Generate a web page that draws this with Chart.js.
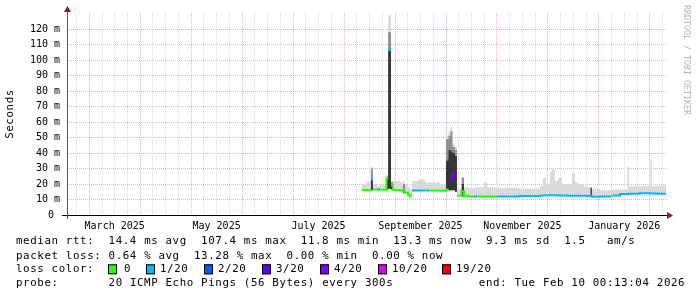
<!DOCTYPE html>
<html>
<head>
<meta charset="utf-8">
<script src="https://cdn.jsdelivr.net/npm/chart.js@4.4.1/dist/chart.umd.min.js"></script>
<style>
  html, body { margin: 0; padding: 0; background: #fff; }
  canvas { display: block; }
</style>
</head>
<body>
<canvas id="chart" width="697" height="297"></canvas>
<script>
// x values are days since Tue Feb 10 2025 (graph covers one year)
const days = [179.4, 181.8, 184.8, 186.1, 188.6, 190.4, 194.3, 195.4, 197.1, 198.3,
              202.6, 204.4, 205.6, 207.4, 208.6, 209.9, 213.5, 217.8, 219.0, 220.2,
              226.9, 230.5, 232.1, 233.3, 234.5, 236.0, 237.2, 240.0, 241.5, 243.9,
              247.0, 249.4, 253.6, 255.5, 257.3, 261.6, 275.5, 287.7, 289.5, 291.4,
              293.8, 295.0, 296.8, 298.7, 301.1, 304.7, 307.2, 309.0, 310.8, 313.9,
              316.9, 318.4, 319.3, 324.2, 330.9, 332.1, 336.4, 340.9, 341.9, 348.5,
              354.9, 355.8, 359.5, 364.4];

// median rtt in ms
const medianRtt = [16.2, 16.0, 23.0, 16.5, 16.5, 16.3, 23.5, 107.4, 19.0, 16.2,
                   16.0, 15.0, 14.5, 13.0, 12.0, 15.8, 15.8, 15.8, 15.8, 15.8,
                   15.6, 16.5, 23.0, 23.0, 27.5, 24.0, 12.5, 15.3, 12.5, 12.0,
                   12.0, 12.0, 12.0, 12.0, 12.0, 12.0, 12.2, 12.6, 12.6, 12.8,
                   12.8, 12.8, 12.8, 12.6, 12.6, 12.5, 12.5, 12.5, 12.4, 12.4,
                   12.3, 12.2, 11.8, 12.0, 12.5, 12.6, 13.5, 13.6, 13.7, 14.0,
                   13.9, 13.9, 13.8, 13.3];

// packet loss level, index into lossLabels / lossColors
const lossLevel = [0, 0, 1, 0, 1, 0, 0, 1, 0, 0,
                   0, 0, 0, 0, 0, 1, 1, 0, 1, 0,
                   0, 0, 3, 4, 4, 3, 0, 0, 0, 0,
                   1, 0, 0, 0, 0, 1, 1, 1, 1, 1,
                   1, 1, 1, 1, 1, 1, 1, 1, 1, 1,
                   1, 1, 1, 1, 0, 1, 1, 1, 1, 1,
                   1, 1, 1, 1];

// top of the smoke (slowest ping), ms
const smokeMax = [20, 21.5, 31, 20, 19, 19.5, 26, 129, 22, 22,
                  21, 22, 20, 18, 17, 22, 23, 21, 21, 21,
                  20, 52, 54, 57, 46, 44, 17, 24.5, 18, 17.5,
                  17.5, 18, 21, 18, 18, 17.5, 17, 18.5, 24, 20,
                  28, 29.5, 22, 24, 20, 20, 27, 21, 20, 18.5,
                  18, 18, 17, 16, 16.5, 16.5, 16.5, 31, 18.5, 18.5,
                  36, 18.5, 19, 19];

// denser smoke around the latency spikes (null closes a block)
const spikeDays = [184.8, 186.1, 194.3, 195.4, 197.1, 198.3, 204.4, 205.6, 230.5, 232.1,
                   233.3, 234.5, 236.0, 237.2, 240.0, 241.5, 318.4, 319.3];
const spikeLo   = [16, null, 16.5, 17, 16.5, null, 14, null, 16, 16,
                   16, 16, 15, null, 12, null, 12, null];
const spikeMid  = [30, null, 25, 118, 21, null, 20, null, 49, 51,
                   54, 44, 42, null, 24, null, 18, null];
const spikeDark = [23, null, 23, 106, 19, null, 16, null, 35, 42,
                   41, 40, 38, null, 20, null, 17.5, null];

const monthDays = [29, 91, 153, 215, 277, 339];
const monthLabels = ['March 2025', 'May 2025', 'July 2025', 'September 2025', 'November 2025', 'January 2026'];

const lossLabels = ['0', '1/20', '2/20', '3/20', '4/20', '10/20', '19/20'];
const lossColors = ['#26ff00', '#00b8ff', '#0059ff', '#5e00ff', '#7e00ff', '#dd00ff', '#ff0000'];

const legendRows = [
  'median rtt:  14.4 ms avg  107.4 ms max  11.8 ms min  13.3 ms now  9.3 ms sd  1.5   am/s',
  'packet loss: 0.64 % avg  13.28 % max  0.00 % min  0.00 % now'
];
const probeText = '20 ICMP Echo Pings (56 Bytes) every 300s';
const endText = 'end: Tue Feb 10 00:13:04 2026';

const MONO = '"DejaVu Sans Mono", monospace';
const MAJOR_GRID = 'rgba(235,120,120,0.6)';
const MINOR_GRID = 'rgba(175,175,175,0.5)';

// grid: minor line every quarter of a 31 day block
const gridDays = [];
for (let d = 5.81; d < 365; d += 7.75) gridDays.push(d);

// turn (x, value) lists into a staircase: each value holds until the next x
function steps(xs, ys) {
    const pts = [];
    for (let i = 0; i < xs.length - 1; i++) {
        if (ys[i] === null) { pts.push({ x: xs[i], y: null }); continue; }
        pts.push({ x: xs[i], y: ys[i] }, { x: xs[i + 1], y: ys[i] });
    }
    return pts;
}

// staircase of the median, only where the loss level matches
function medianFor(level) {
    const pts = [];
    for (let i = 0; i < days.length - 1; i++) {
        if (lossLevel[i] !== level) {
            if (pts.length && pts[pts.length - 1].y !== null) pts.push({ x: days[i], y: null });
            continue;
        }
        pts.push({ x: days[i], y: medianRtt[i] }, { x: days[i + 1], y: medianRtt[i] });
    }
    return pts;
}

const flat = { pointRadius: 0, borderWidth: 0, borderColor: 'transparent', tension: 0 };

const frame = {
    id: 'frame',
    afterDatasetsDraw(chart) {
        const { ctx, chartArea: a } = chart;
        ctx.save();
        ctx.lineWidth = 1;
        ctx.strokeStyle = '#000';
        ctx.beginPath();
        ctx.moveTo(a.left - 5, a.bottom + 0.5);
        ctx.lineTo(a.right + 1, a.bottom + 0.5);
        ctx.stroke();
        ctx.strokeStyle = '#555';
        ctx.beginPath();
        ctx.moveTo(a.left + 0.5, a.bottom + 4);
        ctx.lineTo(a.left + 0.5, a.top - 3);
        ctx.stroke();
        ctx.fillStyle = '#8b1a1a';
        ctx.beginPath();
        ctx.moveTo(a.right, a.bottom - 3);
        ctx.lineTo(a.right + 6, a.bottom + 0.5);
        ctx.lineTo(a.right, a.bottom + 4);
        ctx.fill();
        ctx.beginPath();
        ctx.moveTo(a.left - 3, a.top - 1);
        ctx.lineTo(a.left + 0.5, a.top - 7);
        ctx.lineTo(a.left + 4, a.top - 1);
        ctx.fill();
        ctx.restore();
    },
    afterDraw(chart) {
        const ctx = chart.ctx;
        const col = 7.12, left = 16;
        const rowY = [241.5, 255.7, 269.3, 283.3];
        ctx.save();
        ctx.font = '10.8px ' + MONO;
        ctx.letterSpacing = '0.6px';
        ctx.fillStyle = '#000';
        ctx.textBaseline = 'middle';
        ctx.textAlign = 'left';

        const drawRow = (text, y, startCol) => {
            const re = /\S+/g;
            let m;
            while ((m = re.exec(text))) ctx.fillText(m[0], left + (startCol + m.index) * col, y);
        };
        drawRow(legendRows[0], rowY[0], 0);
        drawRow(legendRows[1], rowY[1], 0);

        // loss colour key
        drawRow('loss color:', rowY[2], 0);
        const boxX = [108, 146, 204, 262, 320, 378, 442];
        const textX = [124, 160, 218, 276, 334, 392, 456];
        lossLabels.forEach((lbl, i) => {
            ctx.fillStyle = lossColors[i];
            ctx.fillRect(boxX[i], rowY[2] - 5, 9, 10);
            ctx.strokeStyle = '#000';
            ctx.lineWidth = 1;
            ctx.strokeRect(boxX[i] + 0.5, rowY[2] - 4.5, 8, 9);
            ctx.fillStyle = '#000';
            ctx.fillText(lbl, textX[i], rowY[2]);
        });

        drawRow('probe:', rowY[3], 0);
        drawRow(probeText, rowY[3], 13);
        drawRow(endText, rowY[3], 65);

        // y axis title
        ctx.save();
        ctx.translate(10.5, 114);
        ctx.rotate(-Math.PI / 2);
        ctx.textAlign = 'center';
        ctx.fillText('Seconds', 0, 0);
        ctx.restore();

        // watermark
        ctx.letterSpacing = '0px';
        ctx.font = '8.3px ' + MONO;
        ctx.fillStyle = '#b4b4b4';
        ctx.translate(686, 5);
        ctx.rotate(Math.PI / 2);
        ctx.fillText('RRDTOOL / TOBI OETIKER', 0, 0);
        ctx.restore();
    }
};

const datasets = [
    { label: 'median base', data: steps(days, medianRtt), ...flat, fill: false, order: 6 },
    {
        label: 'smoke',
        data: steps(days, smokeMax),
        ...flat,
        backgroundColor: '#dadada',
        fill: '-1',
        order: 5
    },
    { label: 'spike lo', data: steps(spikeDays, spikeLo), ...flat, fill: false, order: 4 },
    {
        label: 'spike mid',
        data: steps(spikeDays, spikeMid),
        ...flat,
        backgroundColor: '#8f8f8f',
        fill: '-1',
        order: 4
    },
    { label: 'spike lo 2', data: steps(spikeDays, spikeLo), ...flat, fill: false, order: 3 },
    {
        label: 'spike dark',
        data: steps(spikeDays, spikeDark),
        ...flat,
        backgroundColor: '#353535',
        fill: '-1',
        order: 3
    }
];

lossColors.forEach((color, level) => {
    datasets.push({
        label: 'median ' + lossLabels[level],
        data: medianFor(level),
        borderColor: color,
        borderWidth: 2,
        borderCapStyle: 'butt',
        pointRadius: 0,
        tension: 0,
        fill: false,
        order: 0
    });
});

new Chart(document.getElementById('chart'), {
    type: 'line',
    data: { datasets },
    options: {
        responsive: false,
        animation: false,
        events: [],
        layout: { padding: { left: 0, top: 13, right: 30, bottom: 62 } },
        plugins: { legend: { display: false }, tooltip: { enabled: false } },
        scales: {
            x: {
                type: 'linear',
                min: 0,
                max: 365,
                afterBuildTicks: s => { s.ticks = gridDays.map(v => ({ value: v })); },
                afterFit: s => { s.height = 0; },
                ticks: { display: false },
                grid: {
                    drawTicks: false,
                    lineWidth: 1,
                    color: c => (c.index % 4 === 1 ? MAJOR_GRID : MINOR_GRID)
                },
                border: { display: false, dash: [1, 1] }
            },
            x2: {
                type: 'linear',
                position: 'bottom',
                min: 0,
                max: 365,
                afterBuildTicks: s => { s.ticks = monthDays.map(v => ({ value: v })); },
                afterFit: s => { s.height = 20; },
                grid: { display: false, drawTicks: false },
                border: { display: false },
                ticks: {
                    autoSkip: false,
                    maxRotation: 0,
                    padding: 5,
                    color: '#000',
                    font: { family: MONO, size: 10 },
                    callback: (v, i) => monthLabels[i]
                }
            },
            y: {
                min: 0,
                max: 130.5,
                afterFit: s => { s.width = 67; },
                ticks: {
                    stepSize: 5,
                    includeBounds: false,
                    padding: 7,
                    color: '#000',
                    font: { family: MONO, size: 10 },
                    callback: v => (v > 120 || v % 10 ? '' : (v === 0 ? '0 ' : v + ' m'))
                },
                grid: {
                    drawTicks: false,
                    lineWidth: 1,
                    color: c => {
                        const v = c.tick.value;
                        if (v > 125 || v === 0) return 'transparent';
                        return v % 10 === 0 ? MAJOR_GRID : MINOR_GRID;
                    }
                },
                border: { display: false, dash: [1, 1] }
            }
        }
    },
    plugins: [frame]
});
</script>
</body>
</html>
